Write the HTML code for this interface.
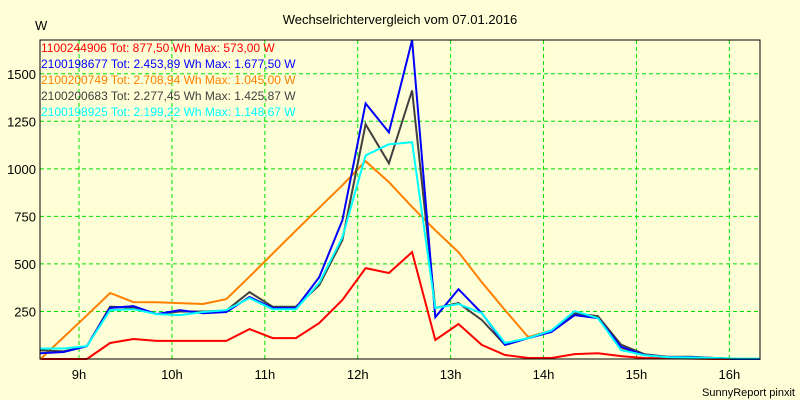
<!DOCTYPE html>
<html><head><meta charset="utf-8"><style>
body{margin:0;background:#ffffd7;}
svg{display:block;font-family:"Liberation Sans",sans-serif;}
</style></head><body>
<svg id="c" width="800" height="400">
<rect x="0" y="0" width="800" height="400" fill="#ffffd7"/>
<text x="400" y="24" text-anchor="middle" font-size="13" fill="#000">Wechselrichtervergleich vom 07.01.2016</text>
<text x="35" y="30" font-size="13" fill="#000">W</text>
<text x="795" y="396" text-anchor="end" font-size="11" fill="#000">SunnyReport pinxit</text>
<g id="grid"></g><g id="series"></g><g id="axes"></g><g id="legend"></g>
</svg>
<script>
const xTicks=[9,10,11,12,13,14,15,16];
const xTickLabels=["9h","10h","11h","12h","13h","14h","15h","16h"];
const yTicks=[250,500,750,1000,1250,1500];
const yTickLabels=["250","500","750","1000","1250","1500"];
const startHour=8.585; const stepHour=0.25;
const seriesNames=["1100244906 Tot: 877,50 Wh Max: 573,00 W","2100198677 Tot: 2.453,89 Wh Max: 1.677,50 W","2100200749 Tot: 2.708,94 Wh Max: 1.045,00 W","2100200683 Tot: 2.277,45 Wh Max: 1.425,87 W","2100198925 Tot: 2.199,22 Wh Max: 1.148,67 W"];
const seriesColors=["#ff0000","#0000ff","#ff8000","#404040","#00ffff"];
const red=[0,0,0,84,105,95,95,95,95,157,110,110,189,310,478,452,562,100,184,74,21,5,5,26,30,15,5,3,2,0,0,0];
const blue=[30,37,68,268,278,236,257,241,247,326,268,268,430,730,1344,1192,1677,220,367,241,74,110,142,231,215,63,21,10,10,5,0,0];
const orange=[0,115,230,347,299,298,294,289,315,433,554,675,795,914,1040,930,800,677,562,404,257,115,150,240,225,55,20,10,8,5,0,0];
const gray=[45,40,68,275,270,236,250,250,255,352,275,275,388,625,1234,1029,1412,268,294,205,74,110,150,240,225,75,25,12,12,5,0,0];
const cyan=[55,55,68,257,262,236,231,247,257,320,262,262,400,640,1071,1129,1140,268,289,241,84,110,150,252,215,47,20,10,8,5,2,2];
const seriesData=[red,blue,orange,gray,cyan];
const seriesDrawOrder=[0,2,3,1,4];
const L=40,R=760,T=40,B=359,xMin=8.58,xMax=16.33,yMax=1677.5;
const sx=h=>L+(h-xMin)/(xMax-xMin)*(R-L);
const sy=v=>B-v/yMax*(B-T);
const NS="http://www.w3.org/2000/svg";
function mk(tag,attrs,parent){const e=document.createElementNS(NS,tag);for(const k in attrs)e.setAttribute(k,attrs[k]);parent.appendChild(e);return e;}
const grid=document.getElementById('grid'),axes=document.getElementById('axes'),ser=document.getElementById('series'),leg=document.getElementById('legend');
xTicks.forEach((h,i)=>{
 const l=mk('line',{x1:sx(h),x2:sx(h),y1:T,y2:B,stroke:'#00e000','stroke-dasharray':'4,3','stroke-width':1},grid);
 
 
 const t=mk('text',{x:sx(h),y:379,'text-anchor':'middle','font-size':13,fill:'#000'},axes);
 t.textContent=xTickLabels[i];
 
 
});
yTicks.forEach((v,i)=>{
 const l=mk('line',{x1:L,x2:R,y1:sy(v),y2:sy(v),stroke:'#00e000','stroke-dasharray':'4,3','stroke-width':1},grid);
 
 
 const t=mk('text',{x:36,y:sy(v)+5,'text-anchor':'end','font-size':13,fill:'#000'},axes);
 t.textContent=yTickLabels[i];
 
 
});
seriesDrawOrder.forEach(si=>{
 const pts=seriesData[si].map((v,k)=>sx(startHour+k*stepHour).toFixed(1)+','+sy(v).toFixed(1)).join(' ');
 const p=mk('polyline',{points:pts,fill:'none',stroke:seriesColors[si],'stroke-width':2,'stroke-linejoin':'miter'},ser);
 
 
});
const f=mk('rect',{x:L,y:T,width:R-L,height:B-T,fill:'none',stroke:'#000','stroke-width':1},axes);


seriesNames.forEach((n,i)=>{
 const t=mk('text',{x:41,y:52+i*16,'font-size':12,fill:seriesColors[i]},leg);
 t.textContent=n;
 
 
});
</script>
</body></html>
